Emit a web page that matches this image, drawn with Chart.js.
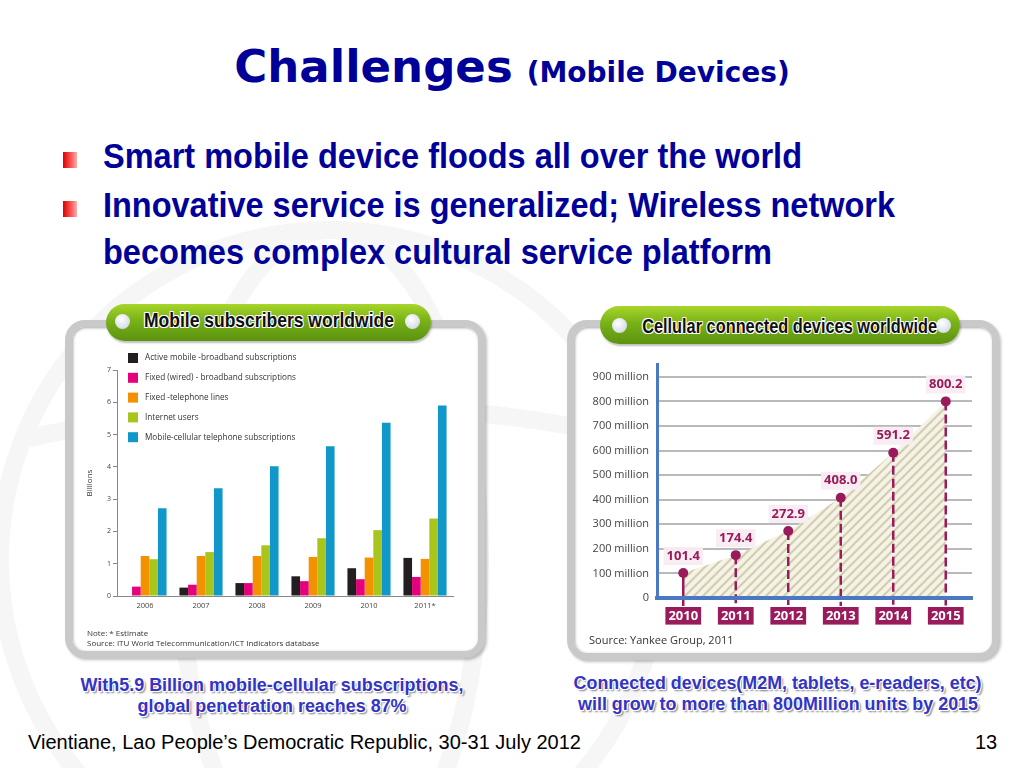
<!DOCTYPE html>
<html>
<head>
<meta charset="utf-8">
<script src="https://cdn.jsdelivr.net/npm/chart.js@4.4.0/dist/chart.umd.min.js"></script>
<style>
  body { margin: 0; width: 1024px; height: 768px; position: relative; overflow: hidden; background: #fff; font-family: "Liberation Sans", Arial, sans-serif; }
  .abs { position: absolute; }
  #bg { left: 0; top: 0; }
  .title { left: 0; width: 1024px; top: 40px; text-align: center; color: #000099; font-family: "DejaVu Sans", Tahoma, sans-serif; font-weight: bold; white-space: nowrap; }
  .title .big { font-size: 45px; }
  .title .small { font-size: 28px; margin-left: 14px; }
  .bullet { left: 63px; width: 14px; height: 16px; background: linear-gradient(to right, #d80000, #ff5a5a 60%, #ffb0b0); }
  .fit { display: inline-block; white-space: nowrap; }
  .btext { left: 103px; color: #000099; font-weight: bold; font-size: 35px; white-space: nowrap; line-height: 40px; }
  .btext .fit { transform-origin: left center; }
  .panel { box-sizing: border-box; border: 7px solid #c9c9c9; border-radius: 20px; background: #fff;
           box-shadow: inset 1px 1px 3px rgba(0,0,0,0.35), 2px 2px 3px rgba(0,0,0,0.25); }
  .pill { border-radius: 20px; background: linear-gradient(#a8d62a, #78b118 45%, #5c9310); box-shadow: 1px 2px 2px rgba(0,0,0,0.25); }
  .dot { width: 15px; height: 15px; border-radius: 50%; background: radial-gradient(circle at 40% 35%, #ffffff, #d8dde6 70%, #aab2c0); }
  .ptext { font-weight: bold; font-size: 21px; line-height: 24px; color: #111; white-space: nowrap; text-align: center;
           text-shadow: -1px -1px 0 #fff, 1px -1px 0 #fff, -1px 1px 0 #fff, 1px 1px 0 #fff, 0 1px 0 #fff, 1px 0 0 #fff; }
  .note { font-family: "Open Sans", sans-serif; font-size: 8px; color: #333; white-space: nowrap; }
  .cap { font-weight: bold; font-size: 18px; color: #3434c4; white-space: nowrap; text-align: center; line-height: 21px;
         text-shadow: -1px -1px 0 #fff, 1px -1px 0 #fff, -1px 1px 0 #fff, 1px 1px 0 #fff, 2px 2px 2px #777; }
  .foot { font-size: 20px; color: #000; white-space: nowrap; }
  .wrap { position: absolute; }
</style>
</head>
<body>
<svg id="bg" class="abs" width="1024" height="768">
  <g fill="none" stroke="#f6f6f6" stroke-width="18">
    <circle cx="330" cy="560" r="330"/>
    <ellipse cx="330" cy="560" rx="150" ry="330"/>
    <path d="M20 440 Q330 370 640 440"/>
  </g>
</svg>

<div class="abs title"><span class="big">Challenges</span><span class="small">(Mobile Devices)</span></div>

<div class="abs bullet" style="top:152px"></div>
<div class="abs bullet" style="top:201px"></div>
<div class="abs btext" style="top:136px"><span class="fit" data-w="699">Smart mobile device floods all over the world</span></div>
<div class="abs btext" style="top:185px"><span class="fit" data-w="792">Innovative service is generalized; Wireless network</span></div>
<div class="abs btext" style="top:232px"><span class="fit" data-w="669">becomes complex cultural service platform</span></div>

<div class="abs panel" style="left:65px;top:320px;width:420px;height:338px"></div>
<div class="abs panel" style="left:567px;top:320px;width:432px;height:340px"></div>

<div class="abs pill" style="left:106px;top:304px;width:325px;height:37px"></div>
<div class="abs dot" style="left:115px;top:314px"></div>
<div class="abs dot" style="left:405px;top:314px"></div>
<div class="abs ptext" style="left:106px;top:308px;width:325px"><span class="fit" data-w="250">Mobile subscribers worldwide</span></div>

<div class="abs pill" style="left:600px;top:306px;width:360px;height:38px"></div>
<div class="abs dot" style="left:612px;top:318px"></div>
<div class="abs dot" style="left:936px;top:318px"></div>
<div class="abs ptext" style="left:600px;top:314px;width:360px"><span class="fit" data-w="295">Cellular connected devices worldwide</span></div>

<div class="wrap" style="left:75px;top:345px;width:395px;height:285px"><canvas id="subChart"></canvas></div>
<div class="wrap" style="left:580px;top:350px;width:405px;height:285px"><canvas id="devChart"></canvas></div>

<div class="abs note" style="left:87px;top:627px">Note: * Estimate</div>
<div class="abs note" style="left:87px;top:637px">Source: ITU World Telecommunication/ICT Indicators database</div>
<div class="abs note" style="left:589px;top:632px;font-size:11px;color:#333">Source: Yankee Group, 2011</div>

<div class="abs cap" style="left:72px;top:675px;width:400px"><span class="fit" data-w="383">With5.9 Billion mobile-cellular subscriptions,</span></div>
<div class="abs cap" style="left:72px;top:696px;width:400px"><span class="fit" data-w="269">global penetration reaches 87%</span></div>
<div class="abs cap" style="left:568px;top:673px;width:420px"><span class="fit" data-w="408">Connected devices(M2M, tablets, e-readers, etc)</span></div>
<div class="abs cap" style="left:568px;top:694px;width:420px"><span class="fit" data-w="400">will grow to more than 800Million units by 2015</span></div>

<div class="abs foot" style="left:28px;top:731px">Vientiane, Lao People’s Democratic Republic, 30-31 July 2012</div>
<div class="abs foot" style="left:975px;top:731px">13</div>

<script>
// Mobile subscribers worldwide (billions)
const subYears = ["2006", "2007", "2008", "2009", "2010", "2011*"];
const subLabels = [
  "Active mobile -broadband subscriptions",
  "Fixed (wired) - broadband subscriptions",
  "Fixed -telephone lines",
  "Internet users",
  "Mobile-cellular telephone subscriptions"
];
const mobileBroadband = [0, 0.26, 0.40, 0.61, 0.86, 1.18];
const fixedBroadband = [0.29, 0.35, 0.40, 0.46, 0.52, 0.59];
const fixedPhone = [1.24, 1.24, 1.24, 1.21, 1.19, 1.15];
const internetUsers = [1.14, 1.36, 1.57, 1.79, 2.04, 2.40];
const mobileCellular = [2.72, 3.34, 4.02, 4.64, 5.37, 5.90];
const subColors = ["#231f20", "#e5007d", "#f39200", "#a9c51b", "#0f98c9"];

// Cellular connected devices worldwide (millions)
const devYears = ["2010", "2011", "2012", "2013", "2014", "2015"];
const connectedDevices = [101.4, 174.4, 272.9, 408.0, 591.2, 800.2];
const devTickLabels = ["0", "100 million", "200 million", "300 million", "400 million",
  "500 million", "600 million", "700 million", "800 million", "900 million"];

const maroon = "#9a1b5b";

// squeeze the narrow-font texts to the reference widths
document.querySelectorAll(".fit").forEach(el => {
  const w = el.getBoundingClientRect().width;
  el.style.transform = "scaleX(" + (el.dataset.w / w) + ")";
});

// legend drawn inside the plot, top left
const boxLegend = {
  id: "boxLegend",
  afterDatasetsDraw(chart) {
    const ctx = chart.ctx;
    const x0 = chart.chartArea.left + 11;
    ctx.save();
    ctx.font = "8.2px 'Open Sans', sans-serif";
    ctx.textBaseline = "middle";
    chart.data.datasets.forEach((ds, i) => {
      const y = 13 + i * 19.8;
      ctx.fillStyle = ds.backgroundColor;
      ctx.fillRect(x0, y - 5, 10, 10);
      ctx.fillStyle = "#333";
      ctx.fillText(ds.label, x0 + 17, y);
    });
    ctx.restore();
  }
};

new Chart(document.getElementById("subChart"), {
  type: "bar",
  data: {
    labels: subYears,
    datasets: [mobileBroadband, fixedBroadband, fixedPhone, internetUsers, mobileCellular].map((d, i) => ({
      label: subLabels[i],
      data: d,
      backgroundColor: subColors[i],
      categoryPercentage: 0.77,
      barPercentage: 1.0
    }))
  },
  options: {
    responsive: true, maintainAspectRatio: false, animation: false,
    layout: { padding: { left: 10, top: 25, right: 17, bottom: 12 } },
    plugins: { legend: { display: false }, tooltip: { enabled: false } },
    scales: {
      x: {
        grid: { display: false, drawTicks: false },
        border: { display: true, color: "#888", width: 1 },
        ticks: { font: { family: "Open Sans", size: 7.5 }, color: "#444", padding: 5 },
        afterFit: s => { s.height = 22; }
      },
      y: {
        min: 0, max: 7,
        grid: { drawOnChartArea: false, drawTicks: true, tickLength: 4, color: "#888" },
        border: { display: true, color: "#888", width: 1 },
        ticks: { stepSize: 1, font: { family: "Open Sans", size: 7 }, color: "#444", padding: 2 },
        title: { display: true, text: "Billions", font: { family: "Open Sans", size: 8 }, color: "#333", padding: 0 },
        afterFit: s => { s.width = 32; }
      }
    }
  },
  plugins: [boxLegend]
});

// hatched fill
const tile = document.createElement("canvas");
tile.width = 9; tile.height = 9;
const tctx = tile.getContext("2d");
tctx.fillStyle = "#f5f3e8";
tctx.fillRect(0, 0, 9, 9);
tctx.strokeStyle = "#d3ceae";
tctx.lineWidth = 2.2;
[[-9, 9, 9, -9], [0, 9, 9, 0], [0, 18, 18, 0]].forEach(([a, b, c, d]) => {
  tctx.beginPath(); tctx.moveTo(a, b); tctx.lineTo(c, d); tctx.stroke();
});
const hatch = tctx.createPattern(tile, "repeat");

const dropLines = {
  id: "dropLines",
  afterDatasetsDraw(chart) {
    const ctx = chart.ctx;
    const meta = chart.getDatasetMeta(0);
    const base = chart.scales.y.getPixelForValue(0) + 8;
    ctx.save();
    ctx.strokeStyle = maroon;
    ctx.lineWidth = 2.5;
    meta.data.forEach((pt, i) => {
      ctx.setLineDash(i === 0 ? [] : [9, 4]);
      ctx.beginPath();
      ctx.moveTo(pt.x, pt.y);
      ctx.lineTo(pt.x, base);
      ctx.stroke();
    });
    ctx.setLineDash([]);
    // value labels
    ctx.font = "bold 13px 'Open Sans', sans-serif";
    ctx.textAlign = "center";
    ctx.textBaseline = "middle";
    meta.data.forEach((pt, i) => {
      const txt = chart.data.datasets[0].data[i].toFixed(1);
      const w = ctx.measureText(txt).width + 6;
      ctx.fillStyle = "rgba(248,236,241,0.95)";
      ctx.fillRect(pt.x - w / 2, pt.y - 26, w, 18);
      ctx.fillStyle = maroon;
      ctx.fillText(txt, pt.x, pt.y - 17);
    });
    // points over the lines
    meta.data.forEach(pt => {
      ctx.fillStyle = maroon;
      ctx.beginPath(); ctx.arc(pt.x, pt.y, 5, 0, Math.PI * 2); ctx.fill();
    });
    ctx.restore();
  }
};

new Chart(document.getElementById("devChart"), {
  type: "line",
  data: {
    labels: devYears,
    datasets: [{
      data: connectedDevices,
      fill: "origin",
      backgroundColor: hatch,
      borderColor: "rgba(0,0,0,0)",
      borderWidth: 0,
      pointRadius: 0,
      tension: 0
    }]
  },
  options: {
    responsive: true, maintainAspectRatio: false, animation: false,
    layout: { padding: { left: 0, top: 12, right: 13, bottom: 9 } },
    plugins: { legend: { display: false }, tooltip: { enabled: false } },
    scales: {
      x: {
        offset: true,
        grid: { display: false, drawTicks: false },
        border: { display: true, color: "#4a78c2", width: 4, z: 1 },
        ticks: {
          font: { family: "Open Sans", size: 13, weight: "bold" }, color: "#fff", padding: 10,
          showLabelBackdrop: true, backdropColor: maroon, backdropPadding: { x: 3, y: 1 }
        },
        afterFit: s => { s.height = 28; }
      },
      y: {
        min: 0, max: 950,
        grid: { color: "#b9b9b9", lineWidth: 2, drawTicks: false },
        border: { display: true, color: "#4a78c2", width: 3, z: 1 },
        ticks: {
          padding: 8, color: "#444",
          font: { family: "Open Sans", size: 11 },
          callback: v => devTickLabels[v / 100]
        },
        afterBuildTicks: s => { s.ticks = devTickLabels.map((t, i) => ({ value: i * 100 })); },
        afterFit: s => { s.width = 77; }
      }
    }
  },
  plugins: [dropLines]
});
</script>
</body>
</html>
